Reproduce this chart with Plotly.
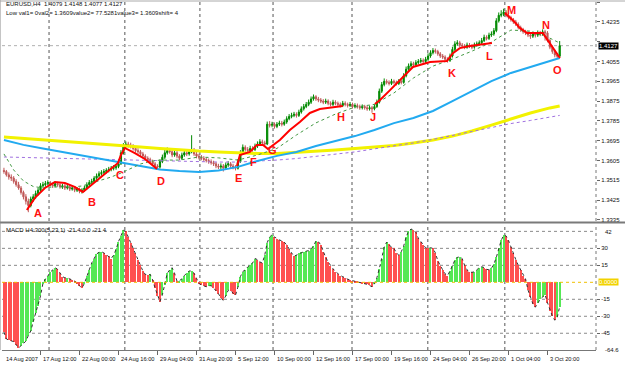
import plotly.graph_objects as go

# ---------------- data ----------------
first_open = 1.3560
closes = [
1.3555,1.3540,1.3530,1.3525,1.3510,1.3495,1.3480,1.3460,1.3440,1.3420,
1.3400,1.3430,1.3440,1.3455,1.3470,1.3490,1.3495,1.3500,1.3505,1.3495,
1.3490,1.3500,1.3495,1.3485,1.3490,1.3480,1.3485,1.3475,1.3480,1.3470,
1.3475,1.3465,1.3470,1.3480,1.3495,1.3505,1.3510,1.3525,1.3535,1.3545,
1.3550,1.3555,1.3560,1.3565,1.3570,1.3572,1.3578,1.3590,1.3640,1.3670,
1.3680,1.3675,1.3670,1.3660,1.3650,1.3645,1.3635,1.3625,1.3615,1.3610,
1.3600,1.3590,1.3580,1.3575,1.3600,1.3620,1.3640,1.3650,1.3645,1.3630,
1.3640,1.3625,1.3615,1.3630,1.3640,1.3635,1.3645,1.3650,1.3635,1.3625,
1.3620,1.3615,1.3610,1.3605,1.3600,1.3595,1.3590,1.3580,1.3575,1.3580,
1.3570,1.3585,1.3590,1.3580,1.3575,1.3570,1.3600,1.3640,1.3665,1.3655,
1.3650,1.3660,1.3655,1.3670,1.3680,1.3690,1.3685,1.3680,1.3770,1.3765,
1.3770,1.3760,1.3770,1.3775,1.3770,1.3780,1.3795,1.3805,1.3810,1.3815,
1.3810,1.3825,1.3840,1.3850,1.3860,1.3870,1.3885,1.3895,1.3885,1.3880,
1.3875,1.3870,1.3875,1.3865,1.3860,1.3870,1.3865,1.3860,1.3855,1.3865,
1.3860,1.3855,1.3860,1.3850,1.3855,1.3850,1.3845,1.3850,1.3845,1.3840,
1.3845,1.3840,1.3850,1.3870,1.3920,1.3950,1.3965,1.3960,1.3955,1.3965,
1.3960,1.3955,1.3965,1.3960,1.3990,1.4020,1.4035,1.4045,1.4040,1.4050,
1.4055,1.4060,1.4055,1.4065,1.4080,1.4095,1.4105,1.4100,1.4090,1.4080,
1.4075,1.4065,1.4060,1.4080,1.4110,1.4135,1.4140,1.4130,1.4125,1.4120,
1.4130,1.4125,1.4120,1.4130,1.4135,1.4140,1.4150,1.4165,1.4160,1.4175,
1.4180,1.4195,1.4240,1.4265,1.4270,1.4280,1.4265,1.4255,1.4245,1.4235,
1.4225,1.4210,1.4200,1.4190,1.4185,1.4175,1.4170,1.4180,1.4175,1.4185,
1.4180,1.4190,1.4185,1.4150,1.4120,1.4100,1.4085,1.4079,1.4127]

highs = [
1.3572,1.3562,1.3551,1.3542,1.3534,1.3520,1.3508,1.3489,1.3468,1.3452,
1.3432,1.3441,1.3452,1.3468,1.3480,1.3502,1.3508,1.3512,1.3515,1.3512,
1.3504,1.3509,1.3508,1.3503,1.3499,1.3498,1.3494,1.3491,1.3489,1.3488,
1.3484,1.3482,1.3479,1.3490,1.3506,1.3516,1.3522,1.3534,1.3546,1.3556,
1.3561,1.3566,1.3570,1.3576,1.3580,1.3584,1.3589,1.3602,1.3652,1.3684,
1.3692,1.3690,1.3686,1.3679,1.3668,1.3661,1.3653,1.3644,1.3633,1.3624,
1.3618,1.3609,1.3598,1.3588,1.3610,1.3632,1.3653,1.3664,1.3660,1.3652,
1.3651,1.3648,1.3634,1.3641,1.3652,1.3650,1.3656,1.3720,1.3662,1.3644,
1.3636,1.3630,1.3625,1.3619,1.3614,1.3610,1.3604,1.3598,1.3590,1.3592,
1.3589,1.3596,1.3602,1.3598,1.3590,1.3584,1.3612,1.3652,1.3678,1.3674,
1.3666,1.3672,1.3670,1.3682,1.3692,1.3702,1.3700,1.3695,1.3782,1.3784,
1.3781,1.3778,1.3780,1.3786,1.3785,1.3791,1.3806,1.3816,1.3822,1.3826,
1.3824,1.3836,1.3851,1.3862,1.3871,1.3882,1.3896,1.3905,1.3902,1.3894,
1.3889,1.3884,1.3886,1.3883,1.3874,1.3881,1.3879,1.3873,1.3869,1.3876,
1.3874,1.3868,1.3871,1.3868,1.3865,1.3864,1.3859,1.3860,1.3858,1.3854,
1.3855,1.3853,1.3861,1.3882,1.3932,1.3962,1.3978,1.3974,1.3969,1.3976,
1.3973,1.3968,1.3975,1.3972,1.4002,1.4032,1.4046,1.4056,1.4054,1.4061,
1.4066,1.4071,1.4069,1.4076,1.4092,1.4106,1.4116,1.4114,1.4108,1.4098,
1.4089,1.4083,1.4074,1.4091,1.4122,1.4147,1.4152,1.4149,1.4139,1.4134,
1.4141,1.4139,1.4133,1.4141,1.4146,1.4151,1.4162,1.4177,1.4174,1.4186,
1.4192,1.4207,1.4252,1.4278,1.4288,1.4295,1.4289,1.4274,1.4263,1.4253,
1.4244,1.4233,1.4218,1.4208,1.4199,1.4193,1.4184,1.4191,1.4189,1.4196,
1.4194,1.4201,1.4199,1.4193,1.4158,1.4128,1.4108,1.4094,1.4148]

lows = [
1.3545,1.3532,1.3518,1.3512,1.3500,1.3486,1.3472,1.3450,1.3428,1.3405,
1.3370,1.3392,1.3418,1.3431,1.3446,1.3462,1.3482,1.3486,1.3492,1.3487,
1.3480,1.3483,1.3486,1.3477,1.3476,1.3471,1.3473,1.3466,1.3468,1.3461,
1.3462,1.3456,1.3455,1.3462,1.3474,1.3488,1.3497,1.3503,1.3517,1.3527,
1.3536,1.3542,1.3546,1.3551,1.3556,1.3560,1.3563,1.3570,1.3585,1.3632,
1.3661,1.3664,1.3660,1.3650,1.3641,1.3634,1.3625,1.3615,1.3606,1.3600,
1.3590,1.3581,1.3570,1.3562,1.3568,1.3593,1.3612,1.3632,1.3636,1.3620,
1.3622,1.3615,1.3606,1.3608,1.3622,1.3625,1.3627,1.3638,1.3626,1.3615,
1.3610,1.3606,1.3600,1.3596,1.3590,1.3586,1.3580,1.3570,1.3566,1.3564,
1.3555,1.3562,1.3576,1.3571,1.3565,1.3560,1.3564,1.3594,1.3632,1.3645,
1.3640,1.3642,1.3645,1.3648,1.3662,1.3672,1.3676,1.3670,1.3675,1.3755,
1.3756,1.3750,1.3752,1.3762,1.3760,1.3763,1.3772,1.3788,1.3797,1.3802,
1.3800,1.3803,1.3818,1.3832,1.3843,1.3852,1.3862,1.3877,1.3876,1.3870,
1.3866,1.3861,1.3862,1.3856,1.3851,1.3853,1.3856,1.3851,1.3846,1.3848,
1.3851,1.3846,1.3848,1.3841,1.3842,1.3841,1.3836,1.3837,1.3836,1.3831,
1.3832,1.3822,1.3833,1.3844,1.3864,1.3912,1.3942,1.3951,1.3946,1.3948,
1.3951,1.3946,1.3948,1.3951,1.3954,1.3983,1.4012,1.4027,1.4031,1.4033,
1.4042,1.4047,1.4046,1.4048,1.4058,1.4072,1.4087,1.4091,1.4081,1.4071,
1.4066,1.4056,1.4050,1.4053,1.4073,1.4102,1.4126,1.4121,1.4116,1.4111,
1.4113,1.4116,1.4111,1.4113,1.4122,1.4127,1.4133,1.4143,1.4151,1.4153,
1.4167,1.4172,1.4188,1.4232,1.4256,1.4261,1.4256,1.4246,1.4236,1.4226,
1.4216,1.4201,1.4190,1.4181,1.4175,1.4166,1.4158,1.4162,1.4164,1.4167,
1.4170,1.4172,1.4150,1.4142,1.4111,1.4090,1.4074,1.4070,1.4077]

opens = [first_open] + closes[:-1]
bars = list(range(len(closes)))

macd = [
-44,-50,-51,-52,-52.4,-55,-58,-56,-54,-52,
-47,-43,-35,-27,-21,-12,-1,3,5.5,9,
11,13,11.5,8,5,4,4,3,2,1,
-1,-3,-5,-1,6,11,17,21,25,26.5,
27,26,24.5,23,21,24,29,36,41,46,
45,40,35,30,26,20,15,10,7,6.5,
7,2,-5,-12,-17,-11,-2,8,11,13,
8,1,1.5,3,6,8,10,10,8,3.5,
-1,-2.4,-3.5,-3.9,-3,-3,-5,-7.5,-10,-14,
-16,-12,-7,-7.5,-10,-11.5,-4,5,9.5,11,
13.5,15.5,17,21,20,18,17,24,35,40,
42,40,38.5,37.5,36.5,35.5,33,29,26,23,
24,25.5,26.5,27,27.5,28,29.5,32,36.5,36,
33,27,22,18,14.5,12,9.5,7.5,6,5,
3.5,2.8,2,1.5,1.1,0.5,-0.5,-1,-1.3,-1.8,
-2.8,-3.9,-1.5,4,12,21,31,35.5,33.5,31,
30,26,24,27,32,40,45,47,46.5,44,
39,36,33,30.5,30,30.5,30,26,19,14.5,
11,7.5,6,10,14.5,19.5,22,22.5,21,15,
11,9.2,8.8,9.3,11,13,13.8,13,11.5,11,
12.4,16,22,30,37,41.5,41,37,31,25.5,
20,15,11,6,3,-6.8,-13,-19,-22,-18.5,
-15,-13,-11,-18,-25,-30,-33.5,-31,-21.4]

ma_idx = [0,8,16,24,32,40,48,56,64,72,80,88,96,104,112,120,128,136,144,152,
          160,168,176,184,192,200,208,216,224,228]
blue_ma = [1.3698,1.3676,1.3660,1.3644,1.3626,1.3610,1.3596,1.3578,1.3564,1.3557,
           1.3553,1.3560,1.3576,1.3603,1.3626,1.3644,1.3671,1.3694,1.3716,1.3744,
           1.3775,1.3798,1.3830,1.3875,1.3921,1.3966,1.4003,1.4030,1.4057,1.4071]
yellow_ma = [1.3712,1.3705,1.3701,1.3694,1.3687,1.3680,1.3673,1.3666,1.3660,1.3653,
             1.3648,1.3644,1.3639,1.3637,1.3637,1.3642,1.3646,1.3653,1.3660,1.3666,
             1.3673,1.3685,1.3698,1.3716,1.3739,1.3766,1.3794,1.3821,1.3844,1.3853]
purple_ma = [1.3621,1.3619,1.3617,1.3614,1.3612,1.3610,1.3607,1.3605,1.3603,1.3601,
             1.3598,1.3598,1.3598,1.3601,1.3607,1.3614,1.3623,1.3632,1.3644,1.3658,
             1.3671,1.3685,1.3701,1.3719,1.3739,1.3757,1.3773,1.3787,1.3803,1.3810]
green_idx = [0,4,8,12,16,20,24,28,32,36,40,44,48,52,56,60,64,72,80,88,96,104,112,
             120,128,136,144,152,160,168,176,184,192,200,208,216,224,228]
green_ma = [1.3635,1.3562,1.3512,1.3487,1.3480,1.3485,1.3485,1.3485,1.3489,1.3503,
            1.3517,1.3530,1.3548,1.3569,1.3589,1.3601,1.3607,1.3607,1.3621,1.3617,
            1.3607,1.3630,1.3660,1.3721,1.3776,1.3816,1.3848,1.3860,1.3912,1.3980,
            1.4034,1.4066,1.4102,1.4143,1.4198,1.4193,1.4161,1.4139]

red_idx = [9.4,12.7,16.8,20.9,25,29,32.4,39.4,46.8,48,49.6,53.7,57.8,62.8, None,
           95.6,96.8,100.9,103.8,106.3,108.3,113.2,117.3,121.4,125.5,129.6,135,139, None,
           152.2,154.3,158.4,162.5,167.8,174.8,181.7,184.2,187,191.2,195.3,200.2, None,
           205.5,208.8,211.7,214.6,221.1,228.1]
red_val = [1.3380,1.3435,1.3480,1.3507,1.3503,1.3485,1.3462,1.3526,1.3594,1.3630,1.3662,1.3639,1.3612,1.3567, None,
           1.3580,1.3630,1.3644,1.3676,1.3676,1.3657,1.3698,1.3744,1.3780,1.3821,1.3839,1.3848,1.3853, None,
           1.3862,1.3880,1.3925,1.3971,1.4030,1.4053,1.4057,1.4093,1.4116,1.4125,1.4130,1.4139, None,
           1.4275,1.4243,1.4207,1.4184,1.4184,1.4071]

wave_labels = ["A","B","C","D","E","F","G","H","J","K","L","M","N","O"]
wave_idx = [13.9,36.1,47.6,64.4,96.4,102.2,110.0,138.3,151.4,183.8,199.4,208.4,222.4,226.9]
wave_price = [1.3367,1.3417,1.3539,1.3512,1.3526,1.3598,1.3653,1.3803,1.3803,1.4003,1.4080,1.4289,1.4221,1.4016]

price_ticks = [1.4325,1.4235,1.4145,1.4055,1.3965,1.3875,1.3785,1.3695,1.3605,1.3515,1.3425,1.3335]
macd_ticks = [30,15,-15,-30,-45]
macd_grid = [45,30,15,-15,-30,-45]
time_tick_idx = [15,31,47,63,79,95,111,127,143,159,175,191,207,223]
time_tick_labels = ["17 Aug 12:00","22 Aug 00:00","24 Aug 16:00","29 Aug 04:00","31 Aug 20:00",
                    "5 Sep 12:00","10 Sep 00:00","12 Sep 16:00","17 Sep 00:00","19 Sep 16:00",
                    "24 Sep 04:00","26 Sep 20:00","1 Oct 04:00","3 Oct 20:00"]
first_label = "14 Aug 2007"
week_grid_idx = [18.5,49.6,80.4,110.4,142.8,173.9,205.5]
last_price = 1.4127

# ---------------- figure ----------------
FONT = "Liberation Sans, Arial, sans-serif"
fig = go.Figure()

fig.add_trace(go.Scatter(x=ma_idx, y=yellow_ma, mode="lines",
                         line=dict(color="#f2f200", width=3), xaxis="x", yaxis="y", hoverinfo="skip"))
fig.add_trace(go.Scatter(x=ma_idx, y=purple_ma, mode="lines",
                         line=dict(color="#a070e0", width=1, dash="dot"), xaxis="x", yaxis="y", hoverinfo="skip"))
fig.add_trace(go.Scatter(x=ma_idx, y=blue_ma, mode="lines",
                         line=dict(color="#22aaf0", width=2), xaxis="x", yaxis="y", hoverinfo="skip"))
fig.add_trace(go.Scatter(x=green_idx, y=green_ma, mode="lines",
                         line=dict(color="#449944", width=1, dash="dot"), xaxis="x", yaxis="y", hoverinfo="skip"))

fig.add_trace(go.Candlestick(
    x=bars, open=opens, high=highs, low=lows, close=closes,
    increasing=dict(line=dict(color="#008a00", width=1), fillcolor="#008a00"),
    decreasing=dict(line=dict(color="#c05858", width=1), fillcolor="#c05858"),
    whiskerwidth=0, xaxis="x", yaxis="y", hoverinfo="skip"))

fig.add_trace(go.Scatter(x=red_idx, y=red_val, mode="lines", connectgaps=False,
                         line=dict(color="#ff0000", width=2), xaxis="x", yaxis="y", hoverinfo="skip"))

# MACD histogram
bar_colors = []
for i, v in enumerate(macd):
    prev = macd[i - 1] if i > 0 else v + 1
    bar_colors.append("#55e855" if v >= prev else "#ff5050")
fig.add_trace(go.Bar(x=bars, y=macd, width=0.5, marker=dict(color=bar_colors, line=dict(width=0)),
                     xaxis="x2", yaxis="y2", hoverinfo="skip"))
fig.add_trace(go.Scatter(x=bars, y=macd, mode="lines",
                         line=dict(color="#333333", width=1, dash="dot"),
                         xaxis="x2", yaxis="y2", hoverinfo="skip"))

shapes = []
for gx in week_grid_idx:
    for yr in ("y domain", "y2 domain"):
        shapes.append(dict(type="line", xref="x", yref=yr, x0=gx, x1=gx, y0=0, y1=1,
                           line=dict(color="#555555", width=1, dash="dot"), layer="below"))
for gy in macd_grid:
    shapes.append(dict(type="line", xref="x domain", yref="y2", x0=0, x1=1, y0=gy, y1=gy,
                       line=dict(color="#8a8a8a", width=1, dash="dot"), layer="below"))
shapes.append(dict(type="line", xref="x domain", yref="y2", x0=0, x1=1, y0=0, y1=0,
                   line=dict(color="#f0c000", width=1, dash="dot")))
shapes.append(dict(type="line", xref="x domain", yref="y", x0=0, x1=1, y0=last_price, y1=last_price,
                   line=dict(color="#b0b0b0", width=1, dash="dot"), layer="below"))
shapes.append(dict(type="line", xref="paper", yref="paper", x0=-0.004, x1=1.06, y0=0.365, y1=0.365,
                   line=dict(color="#7a7a7a", width=2)))
for yr in ("y domain", "y2 domain"):
    shapes.append(dict(type="line", xref="paper", yref=yr, x0=1.0, x1=1.0, y0=0, y1=1,
                       line=dict(color="#777777", width=1, dash="dot")))
shapes.append(dict(type="line", xref="paper", yref="paper", x0=-0.0034, x1=-0.0034, y0=0, y1=1.003,
                   line=dict(color="#888888", width=1)))
shapes.append(dict(type="line", xref="paper", yref="paper", x0=-0.0034, x1=1.06, y0=1.0, y1=1.0,
                   line=dict(color="#aaaaaa", width=1)))

ann = []
txt = dict(family=FONT, size=6, color="#111111")
tfont = dict(family=FONT, size=5.7, color="#111111")
ann.append(dict(text="EURUSD,H4  1.4079 1.4148 1.4077 1.4127", xref="paper", yref="paper",
                x=0.004, y=0.990, xanchor="left", yanchor="middle", showarrow=False, font=txt))
ann.append(dict(text="Low val1= 0val2= 1.3609value2= 77.5281value3= 1.3609shift= 4", xref="paper",
                yref="paper", x=0.004, y=0.966, xanchor="left", yanchor="middle", showarrow=False, font=txt))
ann.append(dict(text="MACD H4:300(5,23,1) -21.4 0.0 -21.4", xref="paper", yref="paper",
                x=0.004, y=0.345, xanchor="left", yanchor="middle", showarrow=False, font=txt))
for lab, xi, yp in zip(wave_labels, wave_idx, wave_price):
    ann.append(dict(text="<b>" + lab + "</b>", x=xi, y=yp, xref="x", yref="y", showarrow=False,
                    font=dict(family="Liberation Sans, Arial", size=11, color="#ff1010")))
ann.append(dict(text="1.4127", x=1.004, y=last_price, xref="paper", yref="y", xanchor="left",
                showarrow=False, bgcolor="#000000", borderpad=0,
                font=dict(family=FONT, size=6, color="#ffffff")))
ann.append(dict(text="0.0000", x=1.004, y=0, xref="paper", yref="y2", xanchor="left",
                showarrow=False, bgcolor="#f2d200", borderpad=0,
                font=dict(family=FONT, size=6, color="#ffffff")))
ann.append(dict(text="42", x=1.012, y=0.353, xref="paper", yref="paper", xanchor="left",
                yanchor="top", showarrow=False, font=txt))
ann.append(dict(text="-64.6", x=1.012, y=0.0, xref="paper", yref="paper", xanchor="left",
                yanchor="middle", showarrow=False, font=txt))
ann.append(dict(text=first_label, x=0.0, y=-0.012, xref="x2", yref="paper", xanchor="left",
                yanchor="top", showarrow=False, font=tfont))
for ti, tl in zip(time_tick_idx, time_tick_labels):
    ann.append(dict(text=tl, x=ti + 0.4, y=-0.012, xref="x2", yref="paper", xanchor="left",
                    yanchor="top", showarrow=False, font=tfont))

price_text = ["" if abs(t - 1.4145) < 1e-6 else "%.4f" % t for t in price_ticks]

xr = [-0.8, 242.9]
fig.update_layout(
    width=625, height=368,
    margin=dict(l=2, r=29, t=1, b=18),
    paper_bgcolor="#ffffff", plot_bgcolor="#ffffff",
    showlegend=False, bargap=0,
    font=dict(family=FONT, size=6, color="#111111"),
    xaxis=dict(domain=[0, 1], range=xr, anchor="y", showgrid=False, zeroline=False,
               showticklabels=False, ticks="", rangeslider=dict(visible=False), fixedrange=True),
    yaxis=dict(domain=[0.3696, 1.0], range=[1.3330, 1.4330], side="right", anchor="x",
               tickvals=price_ticks, ticktext=price_text,
               showgrid=False, zeroline=False, ticks="outside", ticklen=3, tickcolor="#666666",
               tickfont=dict(family=FONT, size=6, color="#111111"), showline=False),
    xaxis2=dict(domain=[0, 1], range=xr, anchor="y2", showgrid=False, zeroline=False,
                tickvals=time_tick_idx, ticks="outside", ticklen=4, tickcolor="#666666",
                showticklabels=False, showline=True, linecolor="#777777", linewidth=1),
    yaxis2=dict(domain=[0, 0.361], range=[-59.8, 51.5], side="right", anchor="x2",
                tickvals=macd_ticks, ticktext=[str(t) for t in macd_ticks],
                showgrid=False, zeroline=False, ticks="outside", ticklen=3, tickcolor="#666666",
                tickfont=dict(family=FONT, size=6, color="#111111")),
    shapes=shapes, annotations=ann,
)

fig.write_html("out.html")
